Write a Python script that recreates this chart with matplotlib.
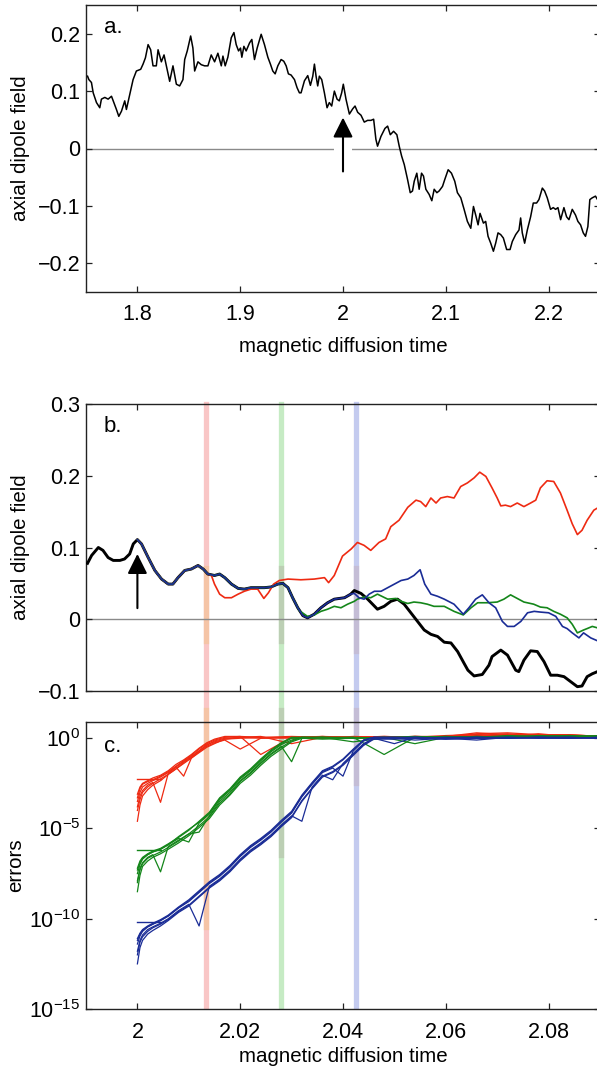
import numpy as np
import matplotlib
matplotlib.use("Agg")
import matplotlib.pyplot as plt
from matplotlib.ticker import FixedLocator, FixedFormatter, NullLocator

plt.rcParams['font.family'] = ['Liberation Sans', 'DejaVu Sans']
plt.rcParams['mathtext.fontset'] = 'custom'
plt.rcParams['mathtext.rm'] = 'Liberation Sans'
plt.rcParams['mathtext.it'] = 'Liberation Sans:italic'

# ---------------- panel a data ----------------
t_a = [1.7515, 1.7528, 1.7553, 1.7570, 1.7602, 1.7634, 1.7650, 1.7683, 1.7715, 1.7748,
       1.7796, 1.7819, 1.7845, 1.7877, 1.7893, 1.7926, 1.7958, 1.7990, 1.8032, 1.8055,
       1.8078, 1.8104, 1.8129, 1.8152, 1.8184, 1.8201, 1.8233, 1.8259, 1.8282, 1.8314,
       1.8346, 1.8379, 1.8411, 1.8443, 1.8460, 1.8485, 1.8518, 1.8540, 1.8557, 1.8589,
       1.8621, 1.8654, 1.8686, 1.8718, 1.8751, 1.8783, 1.8816, 1.8832, 1.8854, 1.8880,
       1.8913, 1.8939, 1.8961, 1.8984, 1.9003, 1.9016, 1.9036, 1.9058, 1.9091, 1.9113,
       1.9139, 1.9165, 1.9204, 1.9236, 1.9269, 1.9294, 1.9317, 1.9340, 1.9366, 1.9398,
       1.9424, 1.9447, 1.9469, 1.9495, 1.9528, 1.9553, 1.9576,
       1.9592, 1.9625, 1.9657, 1.9683, 1.9706, 1.9722, 1.9738, 1.9754, 1.9770, 1.9793,
       1.9819, 1.9845, 1.9867, 1.9890, 1.9916, 1.9942, 1.9964, 1.9987, 2.0003, 2.0029,
       2.0062, 2.0094, 2.0117, 2.0143, 2.0175, 2.0207, 2.0239, 2.0272, 2.0298, 2.0320,
       2.0336, 2.0369, 2.0408, 2.0434, 2.0460, 2.0492, 2.0524, 2.0547, 2.0570, 2.0596,
       2.0628, 2.0654, 2.0676, 2.0693, 2.0718, 2.0741, 2.0764, 2.0783, 2.0806, 2.0838,
       2.0864, 2.0887, 2.0913, 2.0935, 2.0968, 2.0990, 2.1023, 2.1055, 2.1087, 2.1113,
       2.1146, 2.1178, 2.1210, 2.1243, 2.1269, 2.1291, 2.1314, 2.1333, 2.1366, 2.1388,
       2.1411, 2.1437, 2.1463, 2.1485, 2.1508, 2.1534, 2.1560, 2.1592, 2.1625, 2.1647,
       2.1680, 2.1712, 2.1728, 2.1744, 2.1767, 2.1793, 2.1825, 2.1851, 2.1883, 2.1906,
       2.1939, 2.1961, 2.1987, 2.2019, 2.2045, 2.2068, 2.2091, 2.2117, 2.2149, 2.2175,
       2.2198, 2.2230, 2.2262, 2.2285, 2.2311, 2.2337, 2.2359, 2.2382, 2.2401, 2.2424,
       2.2456, 2.2476, 2.2500]
v_a = [0.126, 0.120, 0.115, 0.097, 0.080, 0.071, 0.086, 0.089, 0.086, 0.091,
       0.068, 0.056, 0.065, 0.083, 0.068, 0.094, 0.120, 0.135, 0.138, 0.147,
       0.158, 0.181, 0.172, 0.144, 0.144, 0.172, 0.151, 0.163, 0.144, 0.117,
       0.144, 0.112, 0.109, 0.120, 0.155, 0.170, 0.196, 0.175, 0.135, 0.151,
       0.146, 0.144, 0.144, 0.163, 0.151, 0.166, 0.144, 0.161, 0.144, 0.159,
       0.193, 0.202, 0.181, 0.170, 0.175, 0.159, 0.178, 0.170, 0.184, 0.190,
       0.155, 0.175, 0.199, 0.181, 0.159, 0.147, 0.135, 0.130, 0.144, 0.155,
       0.152, 0.144, 0.130, 0.128, 0.120, 0.106, 0.097,
       0.097, 0.118, 0.127, 0.110, 0.126, 0.147, 0.126, 0.109, 0.126, 0.120,
       0.097, 0.071, 0.080, 0.074, 0.100, 0.086, 0.083, 0.097, 0.112, 0.086,
       0.060, 0.069, 0.074, 0.063, 0.058, 0.046, 0.049, 0.049, 0.051, 0.016,
       0.004, 0.021, 0.035, 0.039, 0.024, 0.030, 0.024, 0.004, -0.013, -0.028,
       -0.054, -0.077, -0.074, -0.057, -0.043, -0.071, -0.043, -0.048, -0.071, -0.080,
       -0.091, -0.071, -0.077, -0.074, -0.066, -0.054, -0.037, -0.043, -0.057, -0.077,
       -0.086, -0.106, -0.127, -0.139, -0.101, -0.116, -0.133, -0.113, -0.130, -0.127,
       -0.153, -0.165, -0.179, -0.165, -0.147, -0.150, -0.156, -0.176, -0.176, -0.162,
       -0.150, -0.142, -0.121, -0.147, -0.165, -0.142, -0.119, -0.095, -0.095, -0.089,
       -0.069, -0.074, -0.086, -0.106, -0.103, -0.106, -0.103, -0.124, -0.103, -0.119,
       -0.124, -0.106, -0.116, -0.127, -0.133, -0.147, -0.153, -0.136, -0.089, -0.086,
       -0.083, -0.089, -0.092]

# ---------------- panel b data ----------------
t_black = [1.9903, 1.9911, 1.9924, 1.9933, 1.9943, 1.9953, 1.9966, 1.9975, 1.9985, 1.9992,
           2.0000, 2.0008, 2.0021, 2.0034, 2.0047, 2.0060, 2.0069, 2.0079, 2.0092, 2.0105,
           2.0118, 2.0128, 2.0137, 2.0150, 2.0160, 2.0170, 2.0183, 2.0196, 2.0208, 2.0221,
           2.0234, 2.0247, 2.0260, 2.0273, 2.0283, 2.0293, 2.0302, 2.0312, 2.0322, 2.0331,
           2.0344, 2.0357, 2.0370, 2.0383, 2.0403, 2.0415, 2.0422, 2.0435, 2.0448, 2.0467,
           2.0480, 2.0493, 2.0506, 2.0519, 2.0532, 2.0545, 2.0558, 2.0571, 2.0584, 2.0597,
           2.0610, 2.0623, 2.0636, 2.0643, 2.0655, 2.0671, 2.0684, 2.0690, 2.0707, 2.0720,
           2.0736, 2.0742, 2.0752, 2.0765, 2.0778, 2.0791, 2.0804, 2.0817, 2.0830, 2.0843,
           2.0856, 2.0865, 2.0875, 2.0885, 2.0895, 2.0905]
v_black = [0.078, 0.089, 0.100, 0.096, 0.086, 0.082, 0.082, 0.084, 0.091, 0.105,
           0.111, 0.105, 0.086, 0.068, 0.056, 0.049, 0.049, 0.058, 0.068, 0.070,
           0.075, 0.070, 0.063, 0.061, 0.063, 0.058, 0.049, 0.043, 0.042, 0.044,
           0.044, 0.044, 0.045, 0.049, 0.050, 0.044, 0.030, 0.016, 0.005, 0.002,
           0.007, 0.016, 0.023, 0.028, 0.030, 0.035, 0.040, 0.036, 0.028, 0.014,
           0.018, 0.025, 0.028, 0.021, 0.009, -0.003, -0.015, -0.021, -0.024, -0.032,
           -0.033, -0.045, -0.062, -0.071, -0.079, -0.077, -0.064, -0.052, -0.043, -0.050,
           -0.071, -0.073, -0.057, -0.044, -0.045, -0.059, -0.078, -0.078, -0.080, -0.087,
           -0.094, -0.093, -0.080, -0.076, -0.073, -0.071]

# perturbed runs: start at t=2 on the reference trajectory, then diverge
t_start_runs = 2.0
t_red = [2.0137, 2.0144, 2.0150, 2.0160, 2.0170, 2.0183, 2.0196, 2.0208, 2.0221, 2.0234,
         2.0246, 2.0255, 2.0265, 2.0276, 2.0293, 2.0318, 2.0344, 2.0364, 2.0372, 2.0383,
         2.0399, 2.0416, 2.0428, 2.0441, 2.0454, 2.0470, 2.0483, 2.0493, 2.0509, 2.0526,
         2.0542, 2.0551, 2.0561, 2.0571, 2.0581, 2.0590, 2.0603, 2.0616, 2.0629, 2.0642,
         2.0655, 2.0666, 2.0678, 2.0690, 2.0700, 2.0707, 2.0716, 2.0726, 2.0739, 2.0752,
         2.0765, 2.0775, 2.0784, 2.0797, 2.0810, 2.0823, 2.0836, 2.0846, 2.0856, 2.0865,
         2.0875, 2.0888, 2.0895, 2.0905]
v_red = [0.063, 0.061, 0.049, 0.035, 0.030, 0.030, 0.035, 0.039, 0.042, 0.042,
         0.029, 0.037, 0.049, 0.054, 0.056, 0.055, 0.056, 0.058, 0.051, 0.061,
         0.088, 0.098, 0.107, 0.103, 0.096, 0.107, 0.112, 0.129, 0.138, 0.156,
         0.166, 0.164, 0.157, 0.169, 0.162, 0.169, 0.171, 0.169, 0.185, 0.190,
         0.197, 0.205, 0.199, 0.183, 0.169, 0.158, 0.159, 0.157, 0.162, 0.157,
         0.162, 0.166, 0.183, 0.193, 0.192, 0.176, 0.152, 0.133, 0.118, 0.124,
         0.138, 0.152, 0.155, 0.157]
t_green = [2.0293, 2.0302, 2.0315, 2.0331, 2.0344, 2.0357, 2.0370, 2.0383, 2.0396, 2.0409,
           2.0422, 2.0428, 2.0441, 2.0454, 2.0467, 2.0487, 2.0503, 2.0513, 2.0526, 2.0538,
           2.0551, 2.0564, 2.0577, 2.0597, 2.0616, 2.0634, 2.0649, 2.0662, 2.0681, 2.0700,
           2.0713, 2.0726, 2.0739, 2.0752, 2.0771, 2.0784, 2.0797, 2.0810, 2.0823, 2.0836,
           2.0846, 2.0856, 2.0868, 2.0875, 2.0885, 2.0895, 2.0905]
v_green = [0.044, 0.030, 0.012, 0.004, 0.006, 0.011, 0.014, 0.018, 0.016, 0.021,
           0.025, 0.028, 0.031, 0.030, 0.035, 0.028, 0.029, 0.025, 0.022, 0.024,
           0.023, 0.021, 0.018, 0.018, 0.011, 0.006, 0.016, 0.023, 0.023, 0.024,
           0.028, 0.034, 0.029, 0.024, 0.021, 0.017, 0.016, 0.011, 0.007, 0.002,
           -0.007, -0.019, -0.015, -0.013, -0.010, -0.012, -0.012]
t_blue = [2.0415, 2.0422, 2.0431, 2.0441, 2.0451, 2.0461, 2.0474, 2.0487, 2.0500, 2.0513,
          2.0526, 2.0538, 2.0550, 2.0559, 2.0571, 2.0584, 2.0597, 2.0616, 2.0634, 2.0645,
          2.0658, 2.0671, 2.0684, 2.0697, 2.0710, 2.0720, 2.0733, 2.0746, 2.0759, 2.0772,
          2.0784, 2.0800, 2.0814, 2.0827, 2.0836, 2.0846, 2.0859, 2.0868, 2.0882, 2.0895,
          2.0905]
v_blue = [0.035, 0.036, 0.030, 0.028, 0.035, 0.039, 0.039, 0.044, 0.049, 0.054,
          0.056, 0.061, 0.069, 0.049, 0.035, 0.032, 0.028, 0.021, 0.007, 0.016,
          0.028, 0.034, 0.023, 0.016, -0.003, -0.010, -0.010, -0.003, 0.009, 0.011,
          0.010, 0.009, 0.004, -0.010, -0.013, -0.019, -0.026, -0.019, -0.026, -0.030,
          -0.031]

# times of the coloured markers (divergence times)
t_marks = [2.0133, 2.0280, 2.0425]

# ---------------- panel c data (log10 errors, ensemble members) ----------------
t_err_red = [2.0000, 2.0005, 2.0010, 2.0020, 2.0030, 2.0045, 2.0060, 2.0075, 2.0090, 2.0105,
             2.0120, 2.0135, 2.0150, 2.0170, 2.0200, 2.0240, 2.0300, 2.0360, 2.0420, 2.0480,
             2.0540, 2.0600, 2.0660, 2.0720, 2.0780, 2.0840, 2.0900]
lerr_red = [
    [-4.6, -3.7, -3.2, -2.85, -2.6, -2.35, -2.0, -1.7, -1.35, -1.05, -0.7, -0.4, -0.15, 0.0, 0.05, 0.0, 0.05, 0.08, 0.05, 0.1, 0.05, 0.15, 0.2, 0.15, 0.2, 0.15, 0.1],
    [-3.3, -2.8, -2.55, -2.4, -2.3, -2.1, -1.85, -1.55, -1.25, -0.95, -0.6, -0.3, -0.1, 0.05, 0.1, -0.9, 0.05, 0.1, 0.0, 0.05, 0.1, 0.1, 0.3, 0.2, 0.15, 0.2, 0.1],
    [-3.8, -3.2, -2.9, -2.6, -2.45, -3.55, -1.95, -1.6, -1.3, -1.0, -0.7, -0.35, -0.2, -0.05, 0.0, 0.05, 0.0, 0.1, 0.05, 0.05, 0.1, 0.05, 0.15, 0.25, 0.1, 0.15, 0.05],
    [-3.5, -3.0, -2.7, -2.5, -2.35, -2.15, -1.9, -1.6, -2.1, -1.1, -0.75, -0.45, -0.25, -0.1, -0.6, 0.0, 0.05, 0.0, 0.1, 0.05, 0.0, 0.1, 0.2, 0.1, 0.25, 0.1, 0.15],
    [-4.0, -3.4, -3.0, -2.7, -2.5, -2.25, -2.0, -1.7, -1.4, -1.1, -0.8, -0.5, -0.3, -0.05, 0.05, 0.1, -0.3, 0.05, 0.05, 0.1, 0.05, 0.1, 0.1, 0.15, 0.2, 0.2, 0.1],
    [-3.1, -2.7, -2.5, -2.35, -2.2, -2.05, -1.8, -1.45, -1.2, -0.9, -0.55, -0.25, -0.05, 0.1, 0.1, 0.05, 0.1, 0.05, 0.05, 0.0, 0.1, 0.05, 0.25, 0.3, 0.2, 0.1, 0.15],
]
t_err_green = [2.0000, 2.0005, 2.0010, 2.0020, 2.0030, 2.0045, 2.0060, 2.0080, 2.0100, 2.0120,
               2.0140, 2.0160, 2.0180, 2.0200, 2.0220, 2.0240, 2.0260, 2.0280, 2.0300, 2.0320,
               2.0360, 2.0420, 2.0480, 2.0540, 2.0600, 2.0660, 2.0720, 2.0780, 2.0840, 2.0900]
lerr_green = [
    [-8.5, -7.6, -7.1, -6.8, -6.6, -6.4, -6.15, -5.8, -5.4, -4.95, -4.45, -3.7, -3.15, -2.5, -2.05, -1.5, -1.0, -0.6, -0.2, 0.0, -0.05, 0.0, 0.05, 0.0, 0.1, 0.05, 0.15, 0.1, 0.05, 0.1],
    [-7.2, -6.8, -6.6, -6.4, -6.25, -6.1, -5.85, -5.5, -5.1, -4.6, -4.1, -3.3, -2.8, -2.15, -1.7, -1.15, -0.65, -0.25, 0.05, 0.05, 0.05, -0.2, 0.0, 0.05, 0.0, 0.1, 0.05, 0.1, 0.15, 0.05],
    [-7.9, -7.2, -6.9, -6.6, -6.45, -7.4, -6.0, -5.65, -5.3, -5.2, -4.3, -3.5, -3.0, -2.35, -1.9, -1.35, -0.85, -0.45, -1.3, 0.0, 0.05, 0.0, 0.05, 0.1, 0.05, 0.05, 0.1, 0.1, 0.1, 0.15],
    [-7.5, -7.0, -6.7, -6.45, -6.3, -6.15, -5.9, -5.55, -5.75, -4.7, -4.2, -3.4, -2.9, -2.25, -1.8, -1.25, -0.75, -0.35, -0.1, 0.05, 0.0, 0.05, -0.9, 0.05, 0.05, 0.1, 0.05, 0.15, 0.1, 0.1],
    [-8.0, -7.3, -6.95, -6.65, -6.5, -6.3, -6.05, -5.7, -5.3, -4.85, -4.35, -3.6, -3.1, -2.4, -1.95, -1.4, -0.9, -0.5, -0.15, 0.05, 0.05, 0.0, 0.05, -0.3, 0.05, 0.05, 0.1, 0.05, 0.1, 0.05],
    [-7.3, -6.9, -6.65, -6.45, -6.3, -6.15, -5.9, -5.45, -5.05, -4.65, -4.15, -3.35, -2.85, -2.2, -1.75, -1.2, -0.7, -0.3, 0.0, 0.0, 0.05, 0.05, 0.0, 0.05, 0.1, 0.0, 0.1, 0.1, 0.15, 0.1],
]
t_err_blue = [2.0000, 2.0005, 2.0010, 2.0020, 2.0030, 2.0045, 2.0060, 2.0080, 2.0100, 2.0120,
              2.0140, 2.0160, 2.0180, 2.0200, 2.0220, 2.0240, 2.0260, 2.0280, 2.0300, 2.0320,
              2.0340, 2.0360, 2.0380, 2.0400, 2.0420, 2.0440, 2.0460, 2.0500, 2.0540, 2.0600,
              2.0660, 2.0720, 2.0780, 2.0840, 2.0900]
lerr_blue = [
    [-12.5, -11.6, -11.2, -10.85, -10.65, -10.4, -10.1, -9.65, -9.3, -8.8, -8.3, -7.9, -7.4, -6.8, -6.3, -5.9, -5.45, -4.9, -4.4, -3.5, -2.8, -2.15, -1.9, -1.5, -0.95, -0.4, -0.05, -0.05, 0.0, -0.05, 0.0, 0.0, 0.05, 0.0, 0.05],
    [-11.1, -10.8, -10.6, -10.4, -10.25, -10.05, -9.8, -9.35, -8.95, -8.45, -7.95, -7.55, -7.05, -6.45, -5.95, -5.55, -5.1, -4.55, -4.05, -3.15, -2.45, -1.8, -1.55, -1.15, -0.6, -0.1, 0.05, 0.05, 0.0, 0.05, 0.05, 0.0, 0.05, 0.05, 0.0],
    [-11.8, -11.2, -10.9, -10.6, -10.45, -10.25, -10.0, -9.55, -9.2, -10.4, -8.2, -7.8, -7.3, -6.7, -6.2, -5.8, -5.35, -4.8, -4.3, -4.6, -2.7, -2.05, -2.3, -1.4, -0.85, -0.3, 0.0, -0.3, 0.05, 0.0, -0.1, 0.05, 0.0, 0.05, 0.0],
    [-11.4, -10.95, -10.7, -10.45, -10.3, -10.1, -9.85, -9.4, -9.05, -8.55, -8.05, -7.65, -7.15, -6.55, -6.05, -5.65, -5.2, -4.65, -4.15, -3.25, -2.55, -1.9, -1.65, -2.1, -0.7, -0.15, 0.05, 0.0, 0.05, -0.05, 0.05, 0.0, 0.05, 0.0, 0.05],
    [-12.0, -11.3, -11.0, -10.7, -10.5, -10.3, -10.05, -9.6, -9.25, -8.75, -8.25, -7.85, -7.35, -6.75, -6.25, -5.85, -5.4, -4.85, -4.35, -3.45, -2.75, -2.1, -1.85, -1.45, -0.9, -0.35, 0.0, 0.0, -0.1, 0.0, 0.0, 0.05, 0.0, 0.0, 0.05],
    [-11.2, -10.85, -10.65, -10.45, -10.3, -10.1, -9.85, -9.4, -9.0, -8.5, -8.0, -7.6, -7.1, -6.5, -6.0, -5.6, -5.15, -4.6, -4.1, -3.2, -2.5, -1.85, -1.6, -1.2, -0.65, -0.1, 0.05, 0.05, 0.05, 0.0, 0.05, 0.05, 0.05, 0.05, 0.0],
]
# initial perturbation levels (log10) shown as short flat segments
init_level = [-2.26, -6.2, -10.2]
init_span = [2.0, 2.0045]

# tick labels
xt_a = [1.8, 1.9, 2.0, 2.1, 2.2]
xl_a = ['1.8', '1.9', '2', '2.1', '2.2']
yt_a = [-0.2, -0.1, 0.0, 0.1, 0.2]
yl_a = ['\u22120.2', '\u22120.1', '0', '0.1', '0.2']
xt_bc = [2.0, 2.02, 2.04, 2.06, 2.08]
xl_bc = ['2', '2.02', '2.04', '2.06', '2.08']
yt_b = [-0.1, 0.0, 0.1, 0.2, 0.3]
yl_b = ['\u22120.1', '0', '0.1', '0.2', '0.3']
yt_c = [1e-15, 1e-10, 1e-5, 1e0]
yl_c = [r'$\mathregular{10^{-15}}$', r'$\mathregular{10^{-10}}$', r'$\mathregular{10^{-5}}$', r'$\mathregular{10^{0}}$']

# ---------------- styling ----------------
RED = '#ee2a12'
GREEN = '#14861a'
BLUE = '#1a2c96'
band_cols = ['#f9c6c6', '#c6ebc4', '#c4cbef']
band_dark = ['#f5c4a6', '#bccfb4', '#c4bdd6']
W, H = 597, 1066
L, R = 86, 600

fig = plt.figure(figsize=(W / 100, H / 100), dpi=100)

def add_ax(top, bottom):
    return fig.add_axes([L / W, (H - bottom) / H, (R - L) / W, (bottom - top) / H])

ax_a = add_ax(5, 292)
ax_b = add_ax(404, 691)
ax_c = add_ax(722, 1009)

LAB = 14.8
TCK = 15.5
ARROW = dict(arrowstyle='-|>,head_length=0.6,head_width=0.3', mutation_scale=20,
             lw=1.5, color='black', shrinkA=0, shrinkB=0)

def style(ax):
    for s in ax.spines.values():
        s.set_linewidth(1.0)
        s.set_color('#222222')
    ax.tick_params(direction='in', top=True, right=True, length=4, width=0.9,
                   labelsize=TCK, colors='#222222', labelcolor='black')
    ax.tick_params(axis='x', pad=9)
    ax.tick_params(axis='y', pad=4)

# ---- panel a ----
ax_a.axhline(0, color='#8a8a8a', lw=1.0, zorder=1)
# white backing behind the arrow (cuts the zero line)
ax_a.plot([2.0, 2.0], [-0.040, 0.050], color='white', lw=13, solid_capstyle='butt', zorder=1.5)
ax_a.plot(t_a, v_a, color='black', lw=1.1, zorder=3)
ax_a.annotate('', xy=(2.0, 0.054), xytext=(2.0, -0.040), arrowprops=ARROW, zorder=2)
ax_a.set_xlim(1.75, 2.25)
ax_a.set_ylim(-0.25, 0.25)
ax_a.xaxis.set_major_locator(FixedLocator(xt_a))
ax_a.xaxis.set_major_formatter(FixedFormatter(xl_a))
ax_a.yaxis.set_major_locator(FixedLocator(yt_a))
ax_a.yaxis.set_major_formatter(FixedFormatter(yl_a))
ax_a.set_xlabel('magnetic diffusion time', fontsize=LAB, labelpad=8)
ax_a.set_ylabel('axial dipole field', fontsize=LAB)
ax_a.yaxis.set_label_coords(-0.108, 0.5)
ax_a.text(0.035, 0.92, 'a.', transform=ax_a.transAxes, fontsize=16, va='center', ha='left')
style(ax_a)

# ---- panel b ----
gap = (722 - 691) / (691 - 404)
for t, c in zip(t_marks, band_cols):
    ax_b.axvline(t, ymin=-gap, ymax=1, color=c, lw=3.8, zorder=0.5, clip_on=False)
ax_b.axvline(t_marks[0], ymin=0.175, ymax=0.43, color=band_dark[0], lw=3.8, zorder=0.6)
ax_b.axvline(t_marks[1], ymin=0.175, ymax=0.43, color=band_dark[1], lw=3.8, zorder=0.6)
ax_b.axvline(t_marks[2], ymin=0.14, ymax=0.43, color=band_dark[2], lw=3.8, zorder=0.6)
ax_b.axhline(0, color='#8a8a8a', lw=1.0, zorder=1)

tb = np.array(t_black)
vb = np.array(v_black)
ax_b.plot(tb, vb, color='black', lw=2.1, zorder=3, solid_joinstyle='round')
for tt, vv, col in [(t_red, v_red, RED), (t_green, v_green, GREEN), (t_blue, v_blue, BLUE)]:
    m = (tb >= t_start_runs) & (tb < tt[0])
    x = np.concatenate([tb[m], tt])
    y = np.concatenate([vb[m], vv])
    ax_b.plot(x, y, color=col, lw=1.2, zorder=4)
ax_b.annotate('', xy=(2.0, 0.091), xytext=(2.0, 0.0155), arrowprops=ARROW, zorder=5)
ax_b.set_xlim(1.99, 2.09)
ax_b.set_ylim(-0.1, 0.3)
ax_b.xaxis.set_major_locator(FixedLocator(xt_bc))
ax_b.xaxis.set_major_formatter(FixedFormatter([''] * len(xt_bc)))
ax_b.yaxis.set_major_locator(FixedLocator(yt_b))
ax_b.yaxis.set_major_formatter(FixedFormatter(yl_b))
ax_b.set_ylabel('axial dipole field', fontsize=LAB)
ax_b.yaxis.set_label_coords(-0.108, 0.5)
ax_b.text(0.035, 0.92, 'b.', transform=ax_b.transAxes, fontsize=16, va='center', ha='left')
style(ax_b)

# ---- panel c ----
for t, c in zip(t_marks, band_cols):
    ax_c.axvline(t, ymin=0, ymax=1, color=c, lw=3.8, zorder=0.5)
for t, cd, lo in zip(t_marks, band_dark, [0.286, 0.537, 0.787]):
    ax_c.axvline(t, ymin=lo, ymax=1.042, color=cd, lw=3.8, zorder=0.6, clip_on=False)

for tg, members, col, lev in [(t_err_red, lerr_red, RED, init_level[0]),
                              (t_err_green, lerr_green, GREEN, init_level[1]),
                              (t_err_blue, lerr_blue, BLUE, init_level[2])]:
    ax_c.plot(init_span, [10.0 ** lev] * 2, color=col, lw=1.0, zorder=2)
    for mem in members:
        ax_c.plot(tg, 10.0 ** np.array(mem), color=col, lw=0.9, zorder=2)

ax_c.set_yscale('log')
ax_c.set_xlim(1.99, 2.09)
ax_c.set_ylim(1e-15, 10.0 ** 0.9)
ax_c.xaxis.set_major_locator(FixedLocator(xt_bc))
ax_c.xaxis.set_major_formatter(FixedFormatter(xl_bc))
ax_c.yaxis.set_major_locator(FixedLocator(yt_c))
ax_c.yaxis.set_major_formatter(FixedFormatter(yl_c))
ax_c.yaxis.set_minor_locator(NullLocator())
ax_c.set_xlabel('magnetic diffusion time', fontsize=LAB, labelpad=3)
ax_c.set_ylabel('errors', fontsize=LAB)
ax_c.yaxis.set_label_coords(-0.118, 0.5)
ax_c.text(0.035, 0.915, 'c.', transform=ax_c.transAxes, fontsize=16, va='center', ha='left')
style(ax_c)

fig.savefig('out.png', dpi=100)
